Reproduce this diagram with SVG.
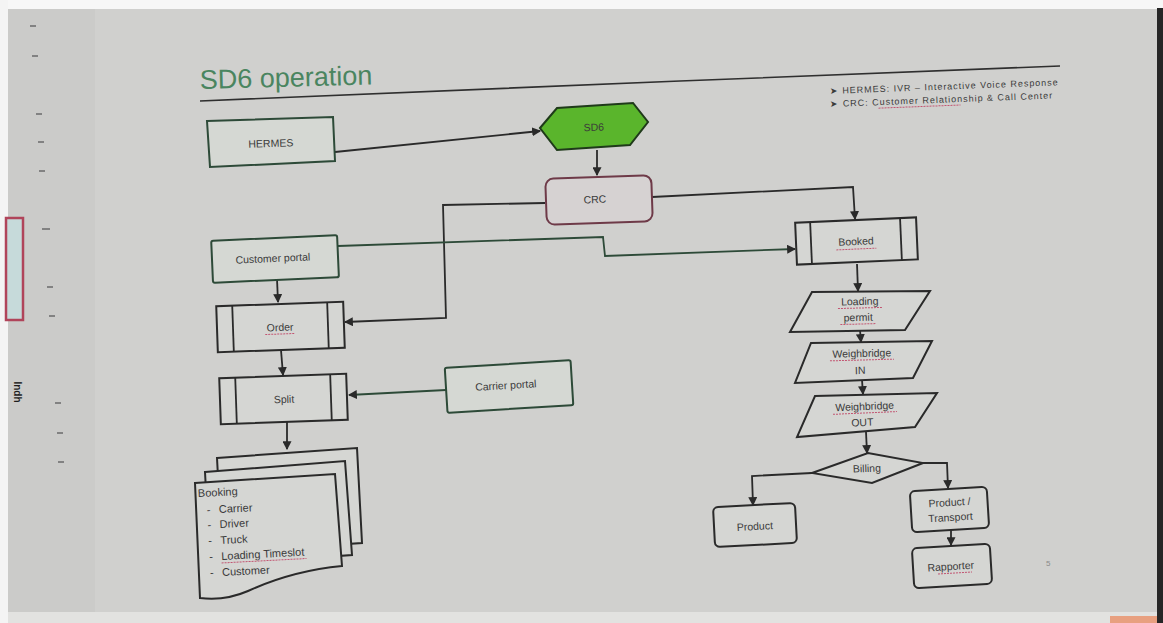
<svg xmlns="http://www.w3.org/2000/svg" width="1163" height="623" viewBox="0 0 1163 623">
  <style>
    .lbl { font-family: "Liberation Sans", Arial, sans-serif; font-size: 10.5px; fill: #3a3a3a; text-anchor: middle; }
    .lst { font-family: "Liberation Sans", Arial, sans-serif; font-size: 11px; fill: #3a3a3a; }
    .box { fill: #d5d6d3; stroke: #2a2a2a; stroke-width: 2; }
    .gbox { fill: #d5d8d3; stroke: #2d4a38; stroke-width: 2; }
    .inner { stroke: #2a2a2a; stroke-width: 1.8; fill: none; }
    .con { fill: none; stroke: #2a2a2a; stroke-width: 1.8; }
    .gcon { fill: none; stroke: #2d4a38; stroke-width: 1.8; }
    .spell { stroke: #c25572; stroke-width: 1; stroke-dasharray: 2 1; fill: none; }
    .tick { stroke: #6a6a6a; stroke-width: 1.5; }
  </style>
  <defs>
    <marker id="arr" viewBox="0 0 8 8" refX="7" refY="4" markerWidth="5" markerHeight="5" orient="auto">
      <path d="M0,0 L8,4 L0,8 Z" fill="#2a2a2a"/>
    </marker>
  </defs>

  <!-- screen surface and surroundings -->
  <rect x="0" y="0" width="1163" height="623" fill="#cbcbc9"/>
  <rect x="95" y="8" width="1062" height="608" fill="#d0d0ce"/>
  <rect x="0" y="0" width="1163" height="9" fill="#f7f7f7"/>
  <rect x="0" y="0" width="8" height="623" fill="#f4f4f4"/>
  <rect x="1157" y="8" width="6" height="615" fill="#262626"/>
  <rect x="8" y="612" width="1149" height="11" fill="#e2e2e0"/>
  <rect x="1110" y="616" width="47" height="7" fill="#e8a080"/>

  <!-- left ruler ticks -->
  <g id="ruler">
    <line class="tick" x1="30" y1="26" x2="36" y2="26"/>
    <line class="tick" x1="32" y1="56" x2="38" y2="56"/>
    <line class="tick" x1="36" y1="114" x2="42" y2="114"/>
    <line class="tick" x1="38" y1="142" x2="44" y2="142"/>
    <line class="tick" x1="39" y1="171" x2="45" y2="171"/>
    <line class="tick" x1="42" y1="229" x2="50" y2="229"/>
    <line class="tick" x1="47" y1="287" x2="53" y2="287"/>
    <line class="tick" x1="49" y1="316" x2="55" y2="316"/>
    <line class="tick" x1="55" y1="403" x2="61" y2="403"/>
    <line class="tick" x1="57" y1="433" x2="63" y2="433"/>
    <line class="tick" x1="58" y1="462" x2="64" y2="462"/>
  </g>

  <!-- side panel edge -->
  <g id="side-panel">
    <rect x="6" y="218" width="17" height="102" fill="#c6dada" stroke="#b0445a" stroke-width="2.5"/>
    <text x="14" y="392" transform="rotate(90 14 392)" font-family="Liberation Sans, Arial, sans-serif" font-size="10" font-weight="bold" fill="#1e1e1e" text-anchor="middle">Indh</text>
  </g>

  <!-- title -->
  <g id="title">
    <text x="200" y="89" font-family="Liberation Sans, Arial, sans-serif" font-size="27" fill="#4a8560" transform="rotate(-1.5 200 89)">SD6 operation</text>
    <path d="M200,101 L680,81 L1060,66" fill="none" stroke="#2f2f2f" stroke-width="1.6"/>
  </g>

  <!-- notes -->
  <g id="notes" transform="rotate(-2.2 830 95)">
    <text x="830" y="94" font-family="Liberation Sans, Arial, sans-serif" font-size="9" fill="#3a3a3a" textLength="228">➤ HERMES: IVR – Interactive Voice Response</text>
    <text x="830" y="107" font-family="Liberation Sans, Arial, sans-serif" font-size="9" fill="#3a3a3a" textLength="222">➤ CRC: Customer Relationship &amp; Call Center</text>
    <line class="spell" x1="878" y1="110" x2="960" y2="110"/>
  </g>

  <!-- connectors -->
  <g id="connectors">
    <path class="con" d="M335,152 L540,131" marker-end="url(#arr)"/>
    <path class="con" d="M597,150 L597,175" marker-end="url(#arr)"/>
    <path class="con" d="M545,203 L443,205 L446,318 L345,322" marker-end="url(#arr)"/>
    <path class="con" d="M652,197 L853,187 L855,219" marker-end="url(#arr)"/>
    <path class="gcon" d="M338,246 L603,237 L605,256 L795,249" marker-end="url(#arr)"/>
    <path class="con" d="M277,279 L278,302" marker-end="url(#arr)"/>
    <path class="con" d="M281,350 L283,375" marker-end="url(#arr)"/>
    <path class="gcon" d="M446,390 L349,395" marker-end="url(#arr)"/>
    <path class="con" d="M287,422 L287,449" marker-end="url(#arr)"/>
    <path class="con" d="M857,264 L858,291" marker-end="url(#arr)"/>
    <path class="con" d="M860,330 L861,342" marker-end="url(#arr)"/>
    <path class="con" d="M862,380 L863,394" marker-end="url(#arr)"/>
    <path class="con" d="M866,432 L867,453" marker-end="url(#arr)"/>
    <path class="con" d="M812,473 L752,476 L753,505" marker-end="url(#arr)"/>
    <path class="con" d="M923,463 L947,463 L948,488" marker-end="url(#arr)"/>
    <path class="con" d="M951,530 L951,545" marker-end="url(#arr)"/>
  </g>

  <!-- nodes -->
  <g id="hermes">
    <path class="gbox" d="M207,121 L333,117 L335,161 L210,167 Z"/>
    <text class="lbl" x="271" y="147" transform="rotate(-2 271 147)">HERMES</text>
  </g>

  <g id="sd6">
    <path d="M540,128 L557,108 L633,103 L648,122 L630,145 L557,150 Z" fill="#5ab52c" stroke="#1f3a1a" stroke-width="2"/>
    <text class="lbl" x="594" y="131" transform="rotate(-2 594 131)">SD6</text>
  </g>

  <g id="crc">
    <rect x="546" y="177" width="106" height="46" rx="8" fill="#d6d2d2" stroke="#6e3a48" stroke-width="2" transform="rotate(-2 598 200)"/>
    <text class="lbl" x="595" y="203" transform="rotate(-2 595 203)">CRC</text>
  </g>

  <g id="customer-portal">
    <rect class="gbox" x="212" y="238" width="126" height="42" rx="2" transform="rotate(-2.5 275 258)"/>
    <text class="lbl" x="273" y="262" transform="rotate(-2.5 273 262)">Customer portal</text>
  </g>

  <g id="order" transform="rotate(-2 280 327)">
    <rect class="box" x="217" y="304" width="127" height="46"/>
    <line class="inner" x1="233" y1="304" x2="233" y2="350"/>
    <line class="inner" x1="328" y1="304" x2="328" y2="350"/>
    <text class="lbl" x="280" y="331">Order</text>
    <line class="spell" x1="265" y1="334" x2="295" y2="334"/>
  </g>

  <g id="split" transform="rotate(-2 284 399)">
    <rect class="box" x="220" y="376" width="127" height="46"/>
    <line class="inner" x1="236" y1="376" x2="236" y2="422"/>
    <line class="inner" x1="331" y1="376" x2="331" y2="422"/>
    <text class="lbl" x="284" y="403">Split</text>
  </g>

  <g id="carrier-portal">
    <rect class="gbox" x="446" y="364" width="126" height="45" rx="2" transform="rotate(-3.5 509 386)"/>
    <text class="lbl" x="506" y="389" transform="rotate(-3.5 506 389)">Carrier portal</text>
  </g>

  <g id="booking">
    <path class="box" d="M217,458 L357,448 L362,543 L222,552 Z"/>
    <path class="box" d="M205,472 L345,461 L352,555 L210,565 Z"/>
    <path class="box" d="M195,483 L335,474 L342,566 C300,570 272,580 248,591 C232,598 216,600 200,598 Z"/>
    <g transform="rotate(-3 200 495)">
      <text class="lst" x="198" y="497">Booking</text>
      <text class="lst" x="206" y="514">-</text><text class="lst" x="218" y="514">Carrier</text>
      <text class="lst" x="206" y="529">-</text><text class="lst" x="218" y="529">Driver</text>
      <text class="lst" x="206" y="545">-</text><text class="lst" x="218" y="545">Truck</text>
      <text class="lst" x="206" y="561">-</text><text class="lst" x="218" y="561">Loading Timeslot</text>
      <line class="spell" x1="218" y1="564" x2="303" y2="564"/>
      <text class="lst" x="206" y="577">-</text><text class="lst" x="218" y="577">Customer</text>
    </g>
  </g>

  <g id="booked" transform="rotate(-2.5 857 241)">
    <rect class="box" x="796" y="220" width="121" height="42"/>
    <line class="inner" x1="811" y1="220" x2="811" y2="262"/>
    <line class="inner" x1="901" y1="220" x2="901" y2="262"/>
    <text class="lbl" x="856" y="245">Booked</text>
    <line class="spell" x1="836" y1="249" x2="876" y2="249"/>
  </g>

  <g id="loading-permit">
    <path class="box" d="M812,292 L930,291 L905,330 L790,332 Z"/>
    <g transform="rotate(-1.5 860 310)">
      <text class="lbl" x="860" y="305">Loading</text>
      <text class="lbl" x="858" y="321">permit</text>
      <line class="spell" x1="838" y1="308" x2="882" y2="308"/>
      <line class="spell" x1="840" y1="324" x2="876" y2="324"/>
    </g>
  </g>

  <g id="weighbridge-in">
    <path class="box" d="M811,343 L932,341 L913,378 L795,383 Z"/>
    <g transform="rotate(-1.5 862 362)">
      <text class="lbl" x="862" y="357">Weighbridge</text>
      <text class="lbl" x="860" y="374">IN</text>
      <line class="spell" x1="830" y1="360" x2="894" y2="360"/>
    </g>
  </g>

  <g id="weighbridge-out">
    <path class="box" d="M815,396 L937,393 L915,427 L797,437 Z"/>
    <g transform="rotate(-2.5 864 414)">
      <text class="lbl" x="865" y="410">Weighbridge</text>
      <text class="lbl" x="862" y="426">OUT</text>
      <line class="spell" x1="833" y1="413" x2="897" y2="413"/>
    </g>
  </g>

  <g id="billing">
    <path class="box" d="M812,473 L868,453 L923,463 L872,483 Z"/>
    <text class="lbl" x="867" y="472" transform="rotate(-2 867 472)">Billing</text>
  </g>

  <g id="product">
    <rect class="box" x="714" y="505" width="82" height="40" rx="5" transform="rotate(-3 755 525)"/>
    <text class="lbl" x="755" y="530" transform="rotate(-3 755 530)">Product</text>
  </g>

  <g id="product-transport">
    <rect class="box" x="911" y="489" width="77" height="41" rx="5" transform="rotate(-3.5 950 510)"/>
    <g transform="rotate(-3.5 950 510)">
      <text class="lbl" x="950" y="506">Product /</text>
      <text class="lbl" x="950" y="521">Transport</text>
    </g>
  </g>

  <g id="rapporter">
    <rect class="box" x="913" y="546" width="78" height="40" rx="5" transform="rotate(-3.5 952 566)"/>
    <text class="lbl" x="951" y="570" transform="rotate(-3.5 951 570)">Rapporter</text>
    <line class="spell" x1="938" y1="574" x2="972" y2="572"/>
  </g>

  <text x="1046" y="566" font-family="Liberation Sans, Arial, sans-serif" font-size="8" fill="#8a8a8a">5</text>
</svg>
